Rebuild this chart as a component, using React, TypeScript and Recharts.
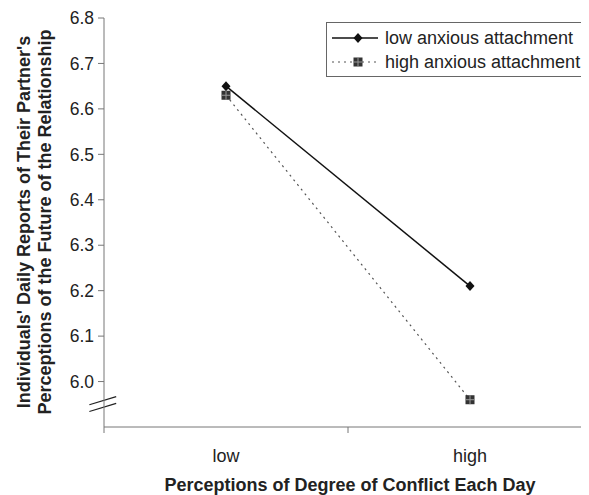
import React from 'react';
import { LineChart, Line, XAxis, YAxis, ReferenceLine, Label } from 'recharts';

const categories = ['low', 'high'];
const lowAnxious = [6.65, 6.21];
const highAnxious = [6.63, 5.96];
const yTicks = [6.0, 6.1, 6.2, 6.3, 6.4, 6.5, 6.6, 6.7, 6.8];
const xTicks = [0, 0.5, 1, 1.5, 2];
const seriesNames = ['low anxious attachment', 'high anxious attachment'];

const data = categories.map((c, i) => ({ x: i + 0.5, cat: c, low: lowAnxious[i], high: highAnxious[i] }));

const FONT = '"Liberation Sans", Arial, Helvetica, sans-serif';

const XTick = (props: any) => {
  const { x, y, payload } = props;
  const v = payload.value;
  if (Number.isInteger(v)) {
    return <line x1={x} x2={x} y1={y} y2={y + 6} stroke="#777" strokeWidth={1} />;
  }
  return (
    <text x={x} y={y + 35} textAnchor="middle" fontSize={18} fill="#222" fontFamily={FONT}>
      {categories[Math.floor(v)]}
    </text>
  );
};

const Diamond = (props: any) => {
  const { cx, cy } = props;
  if (cx == null || cy == null) return null;
  return <path d={`M${cx},${cy - 5}L${cx + 4.5},${cy}L${cx},${cy + 5}L${cx - 4.5},${cy}Z`} fill="#111" />;
};

const Square = (props: any) => {
  const { cx, cy } = props;
  if (cx == null || cy == null) return null;
  return (
    <g>
      <rect x={cx - 4.5} y={cy - 4.5} width={9} height={9} fill="#333" />
      <line x1={cx - 4.5} x2={cx + 4.5} y1={cy} y2={cy} stroke="#999" strokeWidth={1} />
      <line x1={cx} x2={cx} y1={cy - 4.5} y2={cy + 4.5} stroke="#999" strokeWidth={1} />
    </g>
  );
};

const LegendBox = () => (
  <div
    style={{
      position: 'absolute',
      left: 318,
      top: 14,
      width: 261,
      height: 55,
      boxSizing: 'border-box',
      border: '1px solid #666',
      background: '#fff',
      padding: '3px 0 0 5px',
      fontFamily: FONT,
      fontSize: 18,
      color: '#222',
      lineHeight: '24px',
    }}
  >
    {seriesNames.map((n, i) => (
      <div key={n} style={{ display: 'flex', alignItems: 'center', height: 24 }}>
        <svg width={46} height={14} style={{ marginRight: 7 }}>
          {i === 0 ? (
            <>
              <line x1={0} x2={46} y1={7} y2={7} stroke="#111" strokeWidth={1.5} />
              <path d="M26,2L30.5,7L26,12L21.5,7Z" fill="#111" />
            </>
          ) : (
            <>
              <line x1={0} x2={46} y1={7} y2={7} stroke="#555" strokeWidth={1.2} strokeDasharray="2 4" />
              <rect x={21.5} y={2.5} width={9} height={9} fill="#333" />
              <line x1={21.5} x2={30.5} y1={7} y2={7} stroke="#999" />
              <line x1={26} x2={26} y1={2.5} y2={11.5} stroke="#999" />
            </>
          )}
        </svg>
        <span>{n}</span>
      </div>
    ))}
  </div>
);

const YLabel = () => {
  const cx = 26;
  const cy = 214;
  return (
    <text
      transform={`rotate(-90, ${cx}, ${cy})`}
      x={cx}
      y={cy}
      textAnchor="middle"
      fontSize={18}
      fontWeight="bold"
      fill="#222"
      fontFamily={FONT}
    >
      <tspan x={cx} dy={-4}>Individuals' Daily Reports of Their Partner's</tspan>
      <tspan x={cx} dy={21}>Perceptions of the Future of the Relationship</tspan>
    </text>
  );
};

const XLabel = () => (
  <text x={342} y={483} textAnchor="middle" fontSize={18} fontWeight="bold" fill="#222" fontFamily={FONT}>
    Perceptions of Degree of Conflict Each Day
  </text>
);

export default function App() {
  return (
    <div style={{ position: 'relative', width: 589, height: 487 }}>
      <LineChart
        width={589}
        height={487}
        data={data}
        margin={{ top: 10, right: 5, left: 0, bottom: 0 }}
        style={{ fontFamily: FONT }}
      >
        <XAxis
          dataKey="x"
          type="number"
          domain={[0, 2]}
          ticks={xTicks}
          interval={0}
          tickLine={false}
          tickSize={0}
          tickMargin={0}
          tick={<XTick />}
          height={68}
          stroke="#777"
          allowDataOverflow
        >
          <Label content={<XLabel />} />
        </XAxis>
        <YAxis
          type="number"
          domain={[5.9, 6.8]}
          ticks={yTicks}
          interval={0}
          width={96}
          tickSize={6}
          tickMargin={4}
          tickFormatter={(v: number) => v.toFixed(1)}
          tick={{ fontSize: 17.5, fill: '#222', fontFamily: FONT }}
          stroke="#777"
          allowDataOverflow
        >
          <Label content={<YLabel />} />
        </YAxis>
        <ReferenceLine
          segment={[{ x: -0.06, y: 5.949 }, { x: 0.05, y: 5.967 }]}
          stroke="#222"
          strokeWidth={1.2}
          ifOverflow="visible"
        />
        <ReferenceLine
          segment={[{ x: -0.06, y: 5.934 }, { x: 0.05, y: 5.952 }]}
          stroke="#222"
          strokeWidth={1.2}
          ifOverflow="visible"
        />
        <Line
          dataKey="low"
          name={seriesNames[0]}
          stroke="#111"
          strokeWidth={1.5}
          dot={<Diamond />}
          activeDot={false}
          isAnimationActive={false}
        />
        <Line
          dataKey="high"
          name={seriesNames[1]}
          stroke="#555"
          strokeWidth={1.2}
          strokeDasharray="2 4"
          dot={<Square />}
          activeDot={false}
          isAnimationActive={false}
        />
      </LineChart>
      <LegendBox />
    </div>
  );
}
